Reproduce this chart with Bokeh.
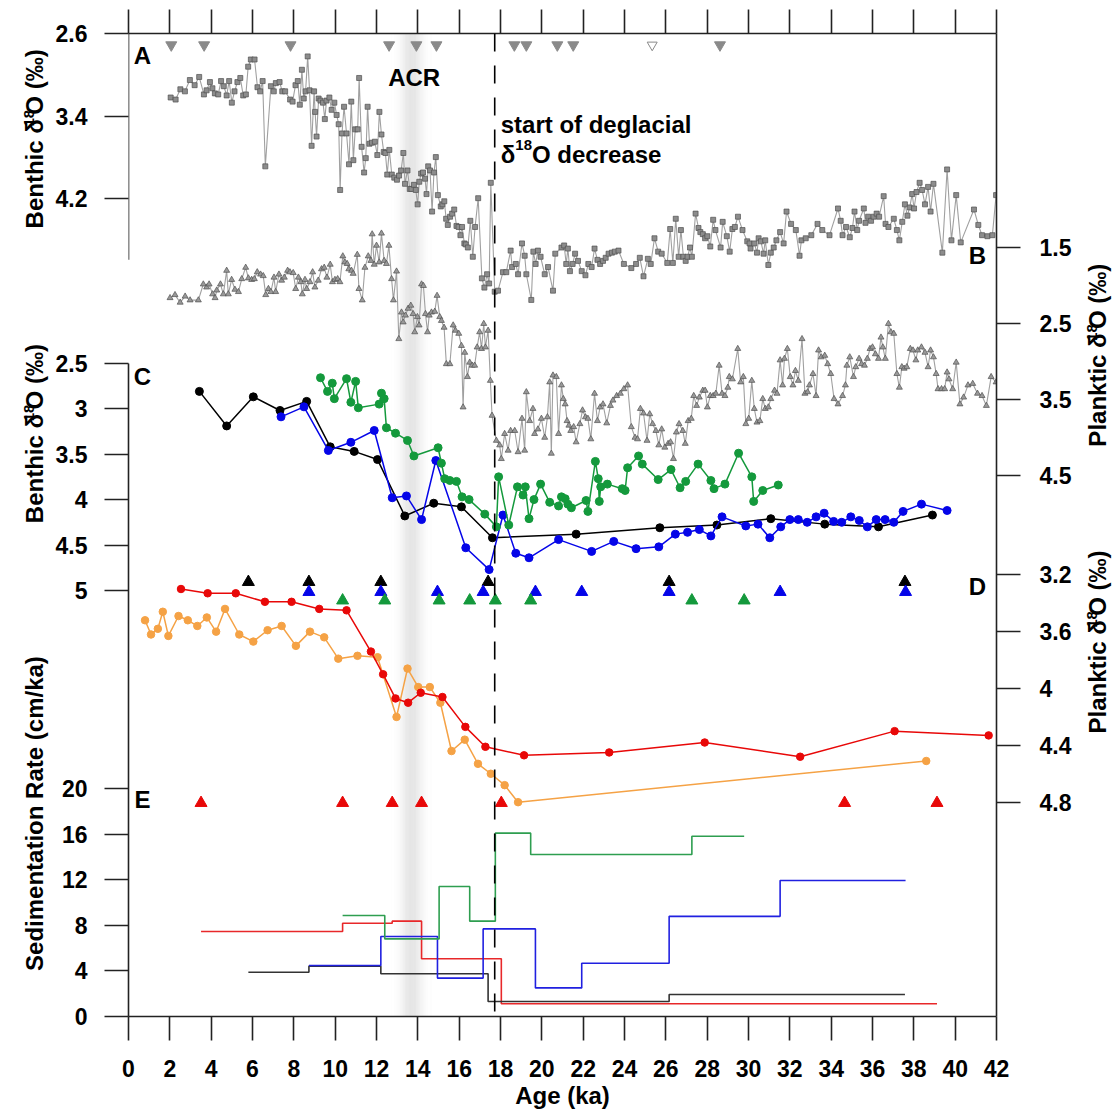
import math
import numpy as np
from bokeh.plotting import figure
from bokeh.layouts import row
from bokeh.models import Range1d, LinearAxis, FixedTicker, Label, Span, Arrow
from bokeh.core.properties import value
from bokeh.embed import file_html
from bokeh.resources import INLINE

# ---------------- DATA ----------------
# Panel A: benthic d18O (grey squares)
A_age = [2.04, 2.28, 2.51, 2.73, 2.97, 3.20, 3.42, 3.65, 3.78, 3.94, 4.06, 4.18, 4.34, 4.48, 4.61, 4.75, 4.87, 5.00,
         5.13, 5.27, 5.41, 5.55, 5.68, 5.79, 5.92, 6.10, 6.24, 6.37, 6.49, 6.62, 6.89, 7.03, 7.13, 7.31, 7.44, 7.58,
         7.82, 7.94, 8.08, 8.19, 8.29, 8.39, 8.48, 8.57, 8.67, 8.76, 8.86, 8.98, 9.03, 9.10, 9.20, 9.29, 9.41, 9.50,
         9.58, 9.72, 9.83, 9.96, 10.07, 10.17, 10.24, 10.33, 10.43, 10.55, 10.67, 10.78, 10.88, 10.97, 11.09, 11.16,
         11.28, 11.40, 11.48, 11.57, 11.66, 11.78, 11.92, 12.04, 12.14, 12.24, 12.35, 12.43, 12.52, 12.62, 12.74,
         12.86, 12.99, 13.09, 13.19, 13.30, 13.38, 13.50, 13.61, 13.69, 13.81, 13.90, 13.99, 14.07, 14.16, 14.25,
         14.35, 14.42, 14.50, 14.59, 14.69, 14.78, 14.87, 14.97, 15.11, 15.19, 15.28, 15.37, 15.45, 15.56, 15.66,
         15.76, 15.87, 15.97, 16.06, 16.14, 16.25, 16.32, 16.42, 16.54, 16.66, 16.77, 16.92, 17.10, 17.22, 17.35,
         17.45, 17.53, 17.72, 17.88, 18.12, 18.28, 18.49, 18.56, 18.74, 18.85, 19.04, 19.17, 19.25, 19.49, 19.59,
         19.70, 19.81, 19.94, 20.14, 20.30, 20.54, 20.65, 20.95, 21.08, 21.18, 21.26, 21.36, 21.49, 21.61, 21.75,
         21.93, 22.11, 22.25, 22.41, 22.55, 22.69, 22.82, 22.96, 23.09, 23.23, 23.39, 23.53, 23.71, 23.97, 24.33,
         24.56, 24.74, 24.92, 25.13, 25.27, 25.45, 25.63, 25.80, 26.07, 26.21, 26.34, 26.48, 26.62, 26.73, 26.85,
         26.96, 27.05, 27.17, 27.26, 27.44, 27.58, 27.67, 27.79, 27.90, 28.01, 28.15, 28.29, 28.40, 28.65, 28.75,
         28.95, 29.09, 29.22, 29.34, 29.49, 29.71, 29.94, 30.05, 30.10, 30.28, 30.41, 30.49, 30.60, 30.73, 30.81,
         30.96, 31.08, 31.22, 31.35, 31.53, 31.70, 31.84, 32.06, 32.29, 32.47, 32.56, 32.77, 33.04, 33.34, 33.57,
         33.92, 34.33, 34.46, 34.55, 34.72, 34.90, 35.03, 35.13, 35.26, 35.35, 35.58, 35.66, 35.79, 35.93, 36.06,
         36.20, 36.32, 36.54, 36.63, 36.77, 37.03, 37.18, 37.30, 37.44, 37.57, 37.69, 37.80, 37.92, 38.01, 38.13,
         38.28, 38.40, 38.54, 38.69, 38.81, 38.95, 39.38, 39.61, 39.82, 40.05, 40.27, 40.91, 41.12, 41.30, 41.56,
         41.80, 41.98]
A_d18O = [3.22, 3.24, 3.14, 3.16, 3.05, 3.10, 3.02, 3.19, 3.15, 3.07, 3.13, 3.18, 3.19, 3.06, 3.11, 3.20, 3.06, 3.27,
          3.16, 3.07, 3.03, 3.20, 3.19, 2.92, 2.85, 2.85, 3.12, 3.16, 3.06, 3.89, 3.11, 3.16, 3.08, 3.07, 3.16, 3.16,
          3.24, 3.26, 3.10, 3.06, 3.29, 2.95, 3.23, 3.16, 2.82, 3.15, 3.69, 3.16, 3.36, 3.60, 3.23, 3.25, 3.27, 3.43,
          3.25, 3.22, 3.34, 3.27, 3.39, 3.48, 4.12, 3.57, 3.31, 3.57, 3.87, 3.26, 3.83, 3.53, 3.53, 3.03,
          3.70, 3.95, 3.81, 3.31, 3.67, 3.66, 3.65, 3.78, 3.36, 3.58, 3.75, 3.76, 3.97, 3.73, 3.97,
          4.00, 4.02, 3.98, 3.93, 3.76, 4.06, 3.93, 4.11, 4.11, 4.07, 4.12, 4.26, 4.04, 3.96, 3.95,
          4.01, 4.16, 3.89, 3.93, 4.33, 3.95, 3.80, 4.17, 4.28, 4.26, 4.23, 4.40, 4.46, 4.38, 4.35,
          4.31, 4.47, 4.48, 4.56, 4.48, 4.64, 4.65, 4.68, 4.42, 4.77, 4.48, 4.20, 4.98, 5.07, 4.94,
          5.03, 4.05, 5.11, 5.10, 4.92, 4.92, 4.71, 4.87, 4.84, 4.94, 4.64, 4.76, 4.94, 5.19, 4.72,
          4.84, 4.71, 4.77, 4.94, 4.87, 5.10, 4.74, 4.68, 4.66, 4.84, 4.69, 4.91, 4.84, 4.74, 4.81,
          4.91, 4.95, 4.84, 4.87, 4.69, 4.80, 4.84, 4.81, 4.78, 4.74, 4.73, 4.72, 4.71, 4.84, 4.88,
          4.84, 4.78, 4.96, 4.79, 4.84, 4.59, 4.72, 4.74, 4.83, 4.50, 4.83, 4.40, 4.77, 4.51, 4.77,
          4.81, 4.77, 4.68, 4.77, 4.35, 4.49, 4.53, 4.55, 4.59, 4.57, 4.67, 4.41, 4.51, 4.68, 4.43,
          4.57, 4.72, 4.50, 4.48, 4.38, 4.51, 4.62, 4.64, 4.69, 4.64, 4.73, 4.59, 4.62, 4.74, 4.61,
          4.85, 4.73, 4.68, 4.61, 4.53, 4.64, 4.33, 4.45, 4.51, 4.76, 4.61, 4.59, 4.56, 4.45, 4.51,
          4.56, 4.30, 4.42, 4.56, 4.48, 4.58, 4.49, 4.33, 4.51, 4.42, 4.30, 4.44, 4.38, 4.42, 4.38,
          4.35, 4.38, 4.18, 4.45, 4.48, 4.40, 4.51, 4.61, 4.43, 4.26, 4.37, 4.29, 4.16, 4.30, 4.14,
          4.05, 4.12, 4.26, 4.09, 4.33, 4.06, 4.73, 3.92, 4.61, 4.17, 4.63, 4.31, 4.46, 4.56, 4.57,
          4.56, 4.17]

# Panel B: planktic d18O (grey triangles)
B_age = [2.01, 2.25, 2.50, 2.74, 2.98, 3.38, 3.62, 3.78, 3.90, 4.07, 4.19, 4.27, 4.45, 4.59, 4.75, 4.83, 4.99, 5.15,
         5.32, 5.48, 5.67, 5.80, 5.96, 6.09, 6.23, 6.39, 6.52, 6.64, 6.77, 6.89, 7.04, 7.12, 7.28, 7.41, 7.54, 7.70,
         7.81, 7.97, 8.09, 8.22, 8.34, 8.41, 8.54, 8.62, 8.78, 8.91, 9.02, 9.18, 9.34, 9.47, 9.60, 9.76, 9.87, 9.99,
         10.12, 10.23, 10.37, 10.47, 10.58, 10.66, 10.79, 10.87, 11.07, 11.15, 11.31, 11.44, 11.60, 11.73, 11.79,
         11.89, 12.00, 12.13, 12.24, 12.37, 12.48, 12.60, 12.73, 12.82, 12.97, 13.08, 13.21, 13.29, 13.40, 13.53,
         13.66, 13.77, 13.85, 13.98, 14.06, 14.18, 14.27, 14.37, 14.47, 14.55, 14.66, 14.82, 14.93, 15.06, 15.14,
         15.27, 15.38, 15.55, 15.71, 15.82, 15.98, 16.11, 16.19, 16.27, 16.40, 16.51, 16.63, 16.75, 16.87, 16.99,
         17.08, 17.19, 17.27, 17.40, 17.51, 17.59, 17.80, 17.96, 18.04, 18.20, 18.37, 18.49, 18.69, 18.85, 19.04,
         19.17, 19.25, 19.41, 19.57, 19.65, 19.81, 19.98, 20.14, 20.27, 20.38, 20.46, 20.54, 20.70, 20.81, 20.95,
         21.04, 21.13, 21.22, 21.31, 21.40, 21.54, 21.66, 21.84, 21.97, 22.11, 22.23, 22.37, 22.55, 22.69, 22.82,
         22.96, 23.14, 23.32, 23.44, 23.62, 23.80, 23.97, 24.15, 24.33, 24.51, 24.63, 24.77, 24.92, 25.09, 25.22,
         25.36, 25.52, 25.66, 25.80, 25.95, 26.11, 26.23, 26.37, 26.51, 26.64, 26.82, 26.94, 27.08, 27.23, 27.35,
         27.49, 27.62, 27.79, 27.90, 28.01, 28.15, 28.29, 28.42, 28.58, 28.72, 28.86, 29.00, 29.07, 29.22, 29.48,
         29.62, 29.75, 29.87, 30.01, 30.16, 30.28, 30.41, 30.55, 30.69, 30.81, 30.96, 31.08, 31.26, 31.38, 31.53,
         31.65, 31.74, 31.88, 32.02, 32.15, 32.27, 32.41, 32.59, 32.73, 32.86, 32.95, 33.12, 33.27, 33.39, 33.52,
         33.69, 33.83, 33.98, 34.14, 34.33, 34.55, 34.69, 34.76, 34.90, 35.08, 35.19, 35.35, 35.47, 35.61, 35.75,
         35.88, 36.00, 36.14, 36.29, 36.41, 36.50, 36.62, 36.77, 36.89, 37.03, 37.18, 37.30, 37.42, 37.53, 37.66,
         37.83, 37.96, 38.10, 38.19, 38.37, 38.54, 38.69, 38.81, 38.95, 39.08, 39.17, 39.34, 39.49, 39.61, 39.70,
         39.88, 40.05, 40.23, 40.41, 40.62, 40.85, 41.08, 41.30, 41.51, 41.74, 41.98]
B_d18O = [2.16, 2.12, 2.22, 2.14, 2.19, 2.19, 1.98, 2.02, 1.98, 2.11, 2.16, 2.06, 1.98, 2.11, 1.80, 2.11, 1.92, 2.05,
          2.08, 1.91, 1.76, 1.90, 1.92, 1.91, 1.82, 1.85, 1.87, 2.12, 2.04, 2.08, 1.89, 2.08, 1.85, 1.93, 1.89, 1.80,
          1.82, 1.83, 2.04, 1.89, 1.95, 2.11, 1.92, 2.04, 1.95, 1.82, 2.02, 1.93, 1.78, 1.76, 1.89, 1.72, 1.95, 1.92,
          1.91, 1.95, 1.61, 1.69, 1.71, 1.78, 1.80, 1.84, 1.59, 2.04, 2.19, 1.76, 1.61, 1.67, 1.32,
          1.72, 1.47, 1.69, 1.31, 1.67, 1.71, 1.47, 1.91, 2.19, 1.81, 2.70, 2.35, 2.48, 2.39, 2.30,
          2.26, 2.37, 2.61, 2.41, 2.52, 1.98, 2.00, 2.37, 2.61, 2.39, 2.35, 2.34, 2.13, 2.41, 2.46,
          2.55, 3.03, 3.03, 2.52, 2.59, 2.63, 2.79, 3.60, 2.88, 3.20, 3.01, 3.05, 3.05, 2.81, 2.61,
          2.83, 2.50, 2.81, 2.59, 3.25, 3.71, 4.04, 4.10, 4.28, 3.95, 4.17, 3.91, 3.91, 4.19, 3.75,
          4.17, 3.40, 3.78, 3.62, 3.95, 3.89, 3.75, 4.00, 3.73, 3.27, 4.21, 3.18, 3.20, 3.95, 3.31,
          3.49, 3.56, 3.78, 3.84, 3.91, 3.86, 4.06, 3.82, 3.64, 3.73, 3.75, 4.02, 3.42, 3.78, 3.60,
          3.56, 3.81, 3.58, 3.51, 3.45, 3.42, 3.36, 3.31, 3.86, 4.00, 4.02, 3.62, 3.68, 4.04, 3.69,
          3.82, 3.91, 4.10, 3.89, 4.13, 4.08, 4.06, 4.28, 3.93, 3.82, 3.91, 4.08, 3.78, 3.75, 3.45,
          3.58, 3.47, 3.38, 3.38, 3.60, 3.45, 3.45, 3.42, 3.05, 3.42, 3.45, 3.34, 3.20, 3.23, 2.83,
          3.27, 3.20, 3.82, 3.75, 3.25, 3.62, 3.80, 3.78, 3.49, 3.62, 3.60, 3.49, 3.38, 3.42, 2.98,
          3.31, 2.96, 2.83, 3.20, 3.31, 3.12, 3.25, 2.70, 3.42, 3.40, 3.31, 3.16, 3.45, 2.85, 2.94,
          2.92, 3.03, 3.16, 3.49, 3.56, 3.45, 3.31, 3.05, 2.94, 3.20, 3.07, 2.96, 3.03, 3.05, 2.96,
          2.83, 2.81, 2.90, 2.96, 2.68, 2.81, 2.96, 2.50, 2.61, 2.63, 3.16, 3.34, 3.07, 3.09, 3.07,
          2.83, 2.85, 2.98, 2.85, 2.81, 2.88, 3.07, 2.85, 2.94, 3.16, 3.36, 3.36, 3.36, 3.14, 3.23,
          3.36, 3.01, 3.56, 3.47, 3.31, 3.29, 3.42, 3.45, 3.58, 3.20, 3.27]

# Panel C: benthic d18O of three cores
C_black_age = [3.43, 4.75, 6.04, 7.33, 8.62, 9.76, 10.92, 12.05, 13.37, 14.77, 16.11, 17.61, 21.66, 25.71, 28.47,
               31.08, 33.69, 36.29, 38.90]
C_black = [2.81, 3.19, 2.87, 3.02, 2.92, 3.42, 3.47, 3.56, 4.18, 4.04, 4.08, 4.42, 4.38, 4.31, 4.28, 4.21, 4.27,
           4.30, 4.17]
C_blue_age = [7.38, 8.49, 9.67, 10.76, 11.89, 12.76, 13.45, 14.18, 14.87, 16.32, 17.45, 18.12, 18.74, 19.38, 20.81,
              22.41, 23.48, 24.56, 25.66, 26.46, 27.05, 27.62, 28.18, 28.72, 29.87, 30.46, 31.03, 31.56, 32.00,
              32.41, 32.84, 33.27, 33.66, 34.12, 34.51, 34.95, 35.36, 35.75, 36.18, 36.61, 37.03, 37.48, 38.37, 39.61]
C_blue = [3.09, 2.98, 3.46, 3.37, 3.24, 3.98, 3.96, 4.22, 3.57, 4.53, 4.77, 4.17, 4.59, 4.64, 4.44,
          4.57, 4.46, 4.54, 4.52, 4.38, 4.36, 4.33, 4.40, 4.19, 4.29, 4.27, 4.42, 4.30, 4.22,
          4.22, 4.25, 4.19, 4.15, 4.24, 4.25, 4.19, 4.23, 4.30, 4.22, 4.22, 4.25, 4.13, 4.05, 4.12]
C_green_age = [9.29, 9.63, 9.86, 9.96, 10.55, 10.76, 10.99, 11.12, 12.13, 12.24, 12.37, 12.48, 12.92, 13.50, 13.81,
               14.98, 15.14, 15.30, 15.55, 15.87, 16.14, 16.48, 17.24, 17.80, 17.91, 18.40, 18.82, 19.09, 19.20,
               19.38, 19.62, 19.94, 20.38, 20.81, 20.95, 21.13, 21.26, 21.43, 22.14, 22.23, 22.59, 22.73, 22.78,
               22.85, 23.17, 23.89, 24.03, 24.15, 24.68, 24.86, 25.63, 26.25, 26.69, 26.96, 27.56, 28.18, 28.33,
               28.86, 29.52, 30.16, 30.25, 30.69, 31.44]
C_green = [2.66, 2.81, 2.72, 2.89, 2.67, 2.93, 2.70, 2.99, 2.95, 2.83, 2.89, 3.21, 3.27, 3.35, 3.52,
           3.43, 3.60, 3.77, 3.79, 3.80, 3.97, 4.00, 4.16, 4.30, 3.75, 4.28, 3.86, 3.95, 3.86,
           4.21, 4.00, 3.83, 4.03, 4.07, 3.97, 3.99, 4.05, 4.09, 4.01, 4.13, 3.58, 3.77, 4.02,
           3.86, 3.83, 3.88, 3.90, 3.65, 3.52, 3.61, 3.78, 3.67, 3.87, 3.80, 3.61, 3.79, 3.88,
           3.83, 3.49, 3.75, 4.02, 3.90, 3.84]

# Panel D: planktic d18O of two cores
D_red_age = [2.54, 3.83, 5.19, 6.60, 7.89, 9.23, 10.55, 11.73, 12.32, 12.92, 13.53, 14.14, 15.19, 16.30, 17.27,
             19.14, 23.26, 27.88, 32.50, 37.07, 41.62]
D_red = [3.30, 3.33, 3.33, 3.39, 3.39, 3.44, 3.45, 3.74, 3.90, 4.07, 4.10, 4.03, 4.06, 4.27, 4.41,
         4.47, 4.45, 4.38, 4.48, 4.30, 4.33]
D_orange_age = [0.80, 1.09, 1.42, 1.66, 1.93, 2.42, 2.87, 3.33, 3.79, 4.24, 4.67, 5.36, 6.04, 6.73, 7.41, 8.10,
                8.78, 9.47, 10.15, 11.08, 12.05, 12.97, 13.50, 14.02, 14.58, 15.09, 15.63, 16.27, 16.91, 17.53,
                18.20, 18.85, 38.60]
D_orange = [3.52, 3.62, 3.58, 3.46, 3.63, 3.49, 3.52, 3.56, 3.50, 3.60, 3.44, 3.62, 3.67, 3.59, 3.56, 3.70,
            3.60, 3.64, 3.79, 3.77, 3.78, 4.20, 3.86, 3.99, 3.99, 4.10, 4.44, 4.36, 4.53, 4.60,
            4.68, 4.80, 4.51]

# Age control points (ka)
A_ctrl = [2.07, 3.66, 7.84, 12.61, 13.93, 14.90, 18.67, 19.25, 20.75, 21.52, 28.62]
A_ctrl_open = [25.34]
black_ctrl = [5.80, 8.73, 12.21, 17.40, 26.16, 37.57]
blue_ctrl = [8.73, 12.21, 14.95, 17.16, 19.69, 21.93, 26.16, 31.53, 37.60]
green_ctrl = [10.36, 12.40, 15.03, 16.51, 17.75, 19.46, 27.26, 29.79]
red_ctrl = [3.51, 10.36, 12.76, 14.18, 18.04, 34.65, 39.12]

# Panel E: sedimentation rates (cm/ka) between age-control points
SR_black_edges = [5.80, 8.73, 12.21, 17.40, 26.16, 37.57]
SR_black = [3.87, 4.40, 3.73, 1.29, 1.91]
SR_blue_edges = [8.73, 12.21, 14.95, 17.16, 19.69, 21.93, 26.16, 31.53, 37.60]
SR_blue = [4.46, 7.01, 3.35, 7.68, 2.49, 4.66, 8.78, 11.94]
SR_green_edges = [10.36, 12.40, 15.03, 16.51, 17.75, 19.46, 27.26, 29.79]
SR_green = [8.86, 6.80, 11.41, 8.36, 16.10, 14.22, 15.83]
SR_red_edges = [3.51, 10.36, 12.76, 14.18, 18.04, 39.12]
SR_red = [7.45, 8.18, 8.36, 5.05, 1.09]

deglacial_start = 17.72
ACR_center = 13.7

# tick values / labels
x_ticks = list(range(0, 43, 2))
A_ticks = [2.6, 3.4, 4.2]
A_tick_labels = ["2.6", "3.4", "4.2"]
B_ticks = [1.5, 2.5, 3.5, 4.5]
B_tick_labels = ["1.5", "2.5", "3.5", "4.5"]
C_ticks = [2.5, 3.0, 3.5, 4.0, 4.5, 5.0]
C_tick_labels = ["2.5", "3", "3.5", "4", "4.5", "5"]
D_ticks = [3.2, 3.6, 4.0, 4.4, 4.8]
D_tick_labels = ["3.2", "3.6", "4", "4.4", "4.8"]
E_ticks = [0, 4, 8, 12, 16, 20]
E_tick_labels = ["0", "4", "8", "12", "16", "20"]

# ---------------- LAYOUT (page pixels) ----------------
FONT = "Liberation Sans"
TOTAL_W, TOTAL_H = 1116, 1114
LEFT_W, RIGHT_W = 52, 41
MAIN_W = TOTAL_W - LEFT_W - RIGHT_W
FL, FR, FT, FB = 127, 996, 33, 1016


def fy(py):
    return (FB - py) / (FB - FT)


def fx(px):
    return (px - FL) / (FR - FL) * 42.0


def make_range(v1, p1, v2, p2):
    k = (p2 - p1) / (v2 - v1)
    return Range1d(start=v1 + (FB - p1) / k, end=v1 + (FT - p1) / k)


rA = make_range(2.6, 33.3, 4.2, 197.7)
rB = make_range(1.5, 247.3, 4.5, 475.0)
rC = make_range(2.5, 362.7, 5.0, 590.0)
rD = make_range(3.2, 574.3, 4.8, 801.7)
rE = make_range(0.0, 1015.7, 20.0, 788.3)


def tpos(v, r):
    return round((v - r.start) / (r.end - r.start), 6)


def kill_grid(fig):
    fig.xgrid.grid_line_color = None
    fig.ygrid.grid_line_color = None


p = figure(width=MAIN_W, height=TOTAL_H, x_range=Range1d(0, 42), y_range=Range1d(0, 1),
           output_backend="svg", toolbar_location=None,
           x_axis_location=None, y_axis_location=None,
           min_border_left=FL - LEFT_W, min_border_top=FT,
           min_border_right=LEFT_W + MAIN_W - FR, min_border_bottom=TOTAL_H - FB)
p.extra_y_ranges = {"A": rA, "B": rB, "C": rC, "D": rD, "E": rE}
p.outline_line_color = None
p.background_fill_color = "white"
p.border_fill_color = "white"
kill_grid(p)

# ACR shading (soft gradient)
xs = np.arange(12.3, 15.1, 0.04)
xc = xs + 0.02
alphas = 0.36 * np.exp(-((xc - ACR_center) / 0.5) ** 2)
p.quad(left=xs, right=xs + 0.04, bottom=0, top=1, fill_color="#b4b4b4",
       fill_alpha=alphas, line_color=None)

# Panel A
p.line(A_age, A_d18O, y_range_name="A", line_color="#a0a0a0", line_width=1.1)
p.scatter(A_age, A_d18O, y_range_name="A", marker="square", size=5,
          fill_color="#8c8c8c", line_color="#505050", line_width=0.7)
# Panel B
p.line(B_age, B_d18O, y_range_name="B", line_color="#a0a0a0", line_width=1.1)
p.scatter(B_age, B_d18O, y_range_name="B", marker="triangle", size=6,
          fill_color="#999999", line_color="#505050", line_width=0.7)

# Panel C
GREEN, BLUE, RED, ORANGE = "#14993c", "#0505e8", "#e80808", "#f5a245"
for ages, vals, col in [(C_black_age, C_black, "black"), (C_blue_age, C_blue, BLUE),
                        (C_green_age, C_green, GREEN)]:
    p.line(ages, vals, y_range_name="C", line_color=col, line_width=1.5)
    p.scatter(ages, vals, y_range_name="C", marker="circle", size=8, fill_color=col, line_color=col)

# Panel D
for ages, vals, col in [(D_orange_age, D_orange, ORANGE), (D_red_age, D_red, RED)]:
    p.line(ages, vals, y_range_name="D", line_color=col, line_width=1.5)
    p.scatter(ages, vals, y_range_name="D", marker="circle", size=7.5, fill_color=col, line_color=col)

# Panel E steps
for edges, vals, col in [(SR_red_edges, SR_red, "#e8282a"), (SR_black_edges, SR_black, "#333333"),
                         (SR_blue_edges, SR_blue, "#2020e0"), (SR_green_edges, SR_green, "#2e9e50")]:
    p.step(edges, vals + [vals[-1]], mode="after", y_range_name="E", line_color=col, line_width=1.6)

# age control markers (fixed levels)
p.scatter(A_ctrl, [fy(44.5)] * len(A_ctrl), marker="inverted_triangle", size=11,
          fill_color="#8a8a8a", line_color="#8a8a8a")
p.scatter(A_ctrl_open, [fy(44.5)] * len(A_ctrl_open), marker="inverted_triangle", size=10,
          fill_color="white", line_color="#8a8a8a", line_width=1)
p.scatter(black_ctrl, [fy(581.5)] * len(black_ctrl), marker="triangle", size=12, fill_color="black", line_color="black")
p.scatter(blue_ctrl, [fy(591.5)] * len(blue_ctrl), marker="triangle", size=12, fill_color=BLUE, line_color=BLUE)
p.scatter(green_ctrl, [fy(600.0)] * len(green_ctrl), marker="triangle", size=12, fill_color=GREEN, line_color=GREEN)
p.scatter(red_ctrl, [fy(802.5)] * len(red_ctrl), marker="triangle", size=12, fill_color=RED, line_color=RED)

# dashed line
p.add_layout(Span(location=deglacial_start, dimension="height", line_color="black",
                  line_width=1.6, line_dash="18 14"))


# ---------------- AXES ----------------
def style_axis(ax):
    ax.axis_line_color = "#222222"
    ax.axis_line_width = 1.6
    ax.major_tick_line_color = "#222222"
    ax.major_tick_line_width = 1.6
    ax.major_tick_out = 24
    ax.major_tick_in = 0
    ax.minor_tick_out = 0
    ax.minor_tick_in = 0
    ax.minor_tick_line_color = None
    ax.major_label_text_font = FONT
    ax.major_label_text_font_style = "bold"
    ax.major_label_text_font_size = "23px"
    ax.major_label_text_color = "black"


bottom = LinearAxis(ticker=FixedTicker(ticks=x_ticks))
style_axis(bottom)
bottom.major_label_standoff = 19
bottom.axis_label = "Age (ka)"
bottom.axis_label_text_font = FONT
bottom.axis_label_text_font_style = "bold"
bottom.axis_label_text_font_size = "24px"
bottom.axis_label_text_color = "black"
bottom.axis_label_standoff = 2
p.add_layout(bottom, "below")

top = LinearAxis(ticker=FixedTicker(ticks=x_ticks))
style_axis(top)
top.major_label_text_color = None
top.major_label_standoff = 0
p.add_layout(top, "above")

left_ticks, left_over = [], {}
for vals, labs, r in [(A_ticks, A_tick_labels, rA), (C_ticks, C_tick_labels, rC), (E_ticks, E_tick_labels, rE)]:
    for v, l in zip(vals, labs):
        t = tpos(v, r)
        left_ticks.append(t)
        left_over[t] = l
left = LinearAxis(ticker=FixedTicker(ticks=left_ticks), major_label_overrides=left_over,
                  bounds=(0, tpos(2.5, rC)))
style_axis(left)
left.major_label_standoff = 17
p.add_layout(left, "left")

right_ticks, right_over = [], {}
for vals, labs, r in [(B_ticks, B_tick_labels, rB), (D_ticks, D_tick_labels, rD)]:
    for v, l in zip(vals, labs):
        t = tpos(v, r)
        right_ticks.append(t)
        right_over[t] = l
right = LinearAxis(ticker=FixedTicker(ticks=right_ticks), major_label_overrides=right_over)
style_axis(right)
right.major_label_standoff = 19
p.add_layout(right, "right")

# upper part of left spine (panel A)
p.add_layout(Arrow(end=None, x_start=0, x_end=0, y_start=1.0, y_end=tpos(4.8, rA),
                   line_color="#222222", line_width=1.6))


# ---------------- TEXT inside frame ----------------
def lab(text, px, py, size=24, align="center", baseline="middle"):
    p.add_layout(Label(x=fx(px), y=fy(py), text=text, text_font=FONT, text_font_style="bold",
                       text_font_size=f"{size}px", text_align=align, text_baseline=baseline,
                       text_color="black"))


WID = {'B': 722, 'e': 556, 'n': 611, 't': 333, 'h': 611, 'i': 278, 'c': 556, ' ': 278, 'δ': 611, 'O': 778,
       '(': 333, '‰': 1000, ')': 333, '1': 556, '8': 556, 'P': 667, 'l': 278, 'a': 556, 'k': 556, 'S': 667,
       'd': 611, 'm': 889, 'o': 611, 'R': 722, '/': 278, 's': 556, 'r': 389, 'f': 333, 'g': 611}


def tw(text, size):
    return sum(WID.get(ch, 556) for ch in text) * size / 1000.0


for t, px, py in [("A", 141, 55), ("B", 977, 255), ("C", 141, 376), ("D", 977, 586), ("E", 141, 799)]:
    lab(t, px, py)
lab("ACR", 413, 77)

x0 = FL + deglacial_start * (FR - FL) / 42 + 6
lab("start of deglacial", x0, 123.5, align="left", baseline="alphabetic")
lab("δ", x0, 153.5, align="left", baseline="alphabetic")
lab("18", x0 + tw("δ", 24), 144.5, size=15, align="left", baseline="alphabetic")
lab("O decrease", x0 + tw("δ", 24) + tw("18", 15), 153.5, align="left", baseline="alphabetic")


# ---------------- side strips with rotated axis titles ----------------
def side_fig(x_lo, width):
    f = figure(width=width, height=TOTAL_H, x_range=Range1d(x_lo, x_lo + width),
               y_range=Range1d(0, TOTAL_H), output_backend="svg", toolbar_location=None,
               x_axis_location=None, y_axis_location=None, min_border=0)
    f.outline_line_color = None
    f.background_fill_color = "white"
    f.border_fill_color = "white"
    kill_grid(f)
    return f


def vlabel(f, parts, center_x, center_py):
    """rotated (bottom-to-top) title built from pieces, each anchored at its own centre.
    r = shift of a piece towards the glyph tops (superscript), in px"""
    total = sum(tw(t, s) for t, s, r in parts)
    y = TOTAL_H - (center_py + total / 2.0)      # bottom end, in side-figure units
    for t, s, r in parts:
        L = tw(t, s)
        f.text(x=[center_x - r], y=[y + L / 2.0], text=[t], angle=math.pi / 2, text_font=value(FONT),
               text_font_style="bold", text_font_size=f"{s}px", text_align="center",
               text_baseline="middle", text_color="black")
        y += L


benthic = [("Benthic δ", 24, 0), ("18", 15, 6), ("O (‰)", 24, 0)]
planktic = [("Planktic δ", 24, 0), ("18", 15, 6), ("O (‰)", 24, 0)]

lf = side_fig(0, LEFT_W)
vlabel(lf, benthic, 34, 118)
vlabel(lf, benthic, 34, 452)
vlabel(lf, [("Sedimentation Rate (cm/ka)", 24, 0)], 34, 884)

rf = side_fig(LEFT_W + MAIN_W, RIGHT_W)
vlabel(rf, planktic, 1097, 363)
vlabel(rf, planktic, 1097, 688)

layout = row(lf, p, rf, spacing=0)
open("out.html", "w").write(file_html(layout, INLINE))
